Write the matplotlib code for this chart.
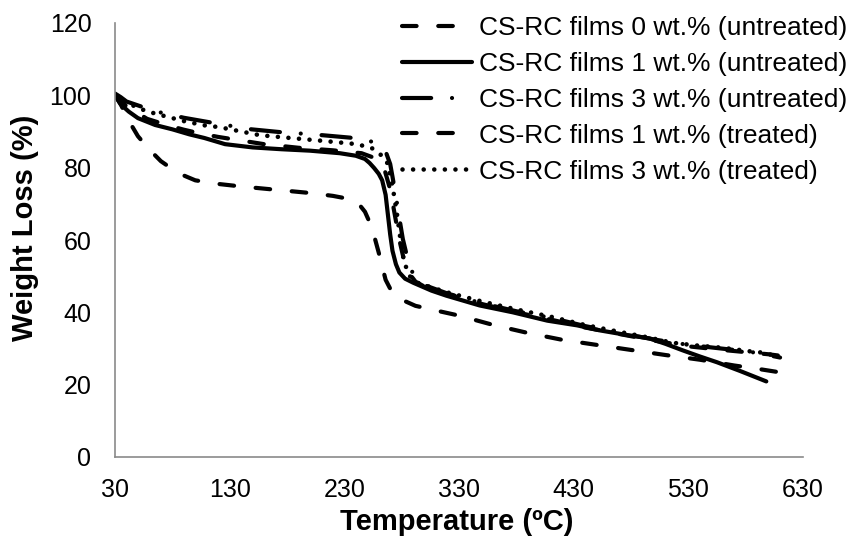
import matplotlib
matplotlib.use('Agg')
import matplotlib.pyplot as plt

plt.rcParams['font.family'] = ['Liberation Sans', 'DejaVu Sans']

# ---- data ----
labels = [
    'CS-RC films 0 wt.% (untreated)',
    'CS-RC films 1 wt.% (untreated)',
    'CS-RC films 3 wt.% (untreated)',
    'CS-RC films 1 wt.% (treated)',
    'CS-RC films 3 wt.% (treated)',
]

t_0u = [30, 35, 42, 50, 60, 70, 85, 100, 120, 140, 160, 180, 200, 220, 235, 242, 248, 254, 260, 266,
        272, 280, 292, 310, 330, 360, 390, 420, 450, 480, 510, 540, 570, 590, 608]
w_0u = [100, 97.5, 93, 88.7, 85, 81.8, 78.5, 76.5, 75.5, 74.8, 74.2, 73.6, 73.0, 72.2, 71.3, 70.2, 67.8,
        63.5, 56.5, 49, 45.3, 43.5, 41.8, 40.5, 39.1, 36.5, 34.3, 32.4, 31, 29.6, 28.2, 26.9, 25.3, 24.4, 23.5]

t_1u = [30, 35, 42, 50, 65, 80, 95, 108, 126, 150, 175, 200, 226, 240, 248, 252, 256, 260, 263, 266,
        268, 270, 272, 275, 278, 283, 290, 306, 319, 348, 377, 407, 433, 453, 475, 496, 510, 525, 540,
        555, 575, 598]
w_1u = [100, 97.5, 95.5, 93.7, 91.8, 90.6, 89.2, 88.2, 86.5, 85.6, 85.1, 84.7, 84, 83.3, 82.4, 81.3, 79.9,
        78.3, 76.5, 72.5, 67, 61.5, 57, 53.3, 51, 49.3, 48.2, 46, 44.6, 41.9, 40, 37.7, 36.4, 35, 33.8, 32.8,
        31.3, 29.5, 27.8, 26.2, 23.8, 20.9]

t_3u = [30, 35, 40, 52, 65, 90, 117, 149, 175, 203, 235, 250, 260, 266, 270, 272, 275, 278, 281, 285,
        290, 300, 320, 350, 380, 410, 440, 470, 500, 530, 550, 570, 590, 610]
w_3u = [100.5, 99.5, 98.3, 97, 95.6, 93.8, 92.3, 90.6, 89.8, 89.2, 88.3, 87.6, 86.5, 84.5, 81, 77.5,
        72, 66, 60.3, 55, 50.5, 47.5, 45.2, 42.5, 40.3, 38.5, 36.2, 34.3, 32.5, 31, 30.3, 29.6, 28.8, 27.5]

t_1t = [30, 40, 58, 75, 90, 105, 120, 140, 160, 190, 220, 245, 258, 265, 270, 274, 278, 282, 286, 292,
        305, 320, 350, 380, 410, 440, 470, 500, 530, 560, 580, 600, 610]
w_1t = [100, 97, 93.5, 91.8, 90.5, 89.4, 88.5, 87.5, 86.5, 85.5, 84.8, 84, 82.5, 79.5, 74, 67, 60, 54.5,
        51, 48.5, 46.2, 45, 42.3, 40, 38, 35.8, 34, 32.2, 30.6, 29.6, 29, 28.4, 28.0]

t_3t = [30, 35, 42, 50, 60, 74, 91, 108, 121, 140, 156, 176, 194, 215, 241, 254, 262, 267, 272, 276,
        279, 282, 287, 295, 310, 320, 350, 380, 410, 440, 470, 496, 516, 535, 560, 589, 599, 607]
w_3t = [100, 99, 97.8, 96.5, 95.4, 94.2, 92.8, 91.7, 91.2, 90.0, 89, 88.4, 87.9, 87.3, 86.5, 85.4, 83.5,
        81.8, 75, 67, 60, 54, 50, 48, 46.5, 45.5, 43, 40.8, 38.8, 36.5, 34.6, 33, 31.6, 30.9, 30.2, 29,
        28.8, 27.3]

x_ticks = [30, 130, 230, 330, 430, 530, 630]
y_ticks = [0, 20, 40, 60, 80, 100, 120]

# ---- figure ----
fig = plt.figure(figsize=(8.52, 5.4), dpi=100)
ax = fig.add_axes([115 / 852, 83 / 540, 688 / 852, 434 / 540])

lw = 3.0
ax.plot(t_0u, w_0u, color='black', lw=lw, dashes=(3.5, 5.2), dash_capstyle='round', label=labels[0])
ax.plot(t_1u, w_1u, color='black', lw=lw, solid_capstyle='round', label=labels[1])
ax.plot(t_3u, w_3u, color='black', lw=lw, dashes=(7, 5, 0.01, 5), dash_capstyle='round', label=labels[2])
ax.plot(t_1t, w_1t, color='black', lw=lw, dashes=(3.5, 5.2), dash_capstyle='round', label=labels[3])
ax.plot(t_3t, w_3t, color='black', lw=3.3, dashes=(0.01, 2.3), dash_capstyle='round', label=labels[4])

ax.set_xlim(30, 630)
ax.set_ylim(0, 120)
ax.set_xticks(x_ticks)
ax.set_yticks(y_ticks)
ax.tick_params(axis='both', length=0, labelsize=18, colors='black')
ax.tick_params(axis='x', pad=15)
ax.tick_params(axis='y', pad=17)
for s in ['top', 'right']:
    ax.spines[s].set_visible(False)
for s in ['left', 'bottom']:
    ax.spines[s].set_color('#8a8a8a')
    ax.spines[s].set_linewidth(1.2)

ax.set_xlabel('Temperature (ºC)', fontsize=21, fontweight='bold')
ax.set_ylabel('Weight Loss (%)', fontsize=21, fontweight='bold')
ax.xaxis.label.set_va('center')
ax.yaxis.label.set_va('center')
ax.xaxis.set_label_coords(0.497, -0.15)
ax.yaxis.set_label_coords(-0.131, 0.528)

leg = ax.legend(loc='upper left', bbox_to_anchor=(402 / 852, 1 - 16 / 540),
                bbox_transform=fig.transFigure, frameon=False, fontsize=19,
                handlelength=2.65, handletextpad=0.25, labelspacing=0.45,
                borderpad=0, borderaxespad=0)

fig.savefig('out.png', dpi=100)
